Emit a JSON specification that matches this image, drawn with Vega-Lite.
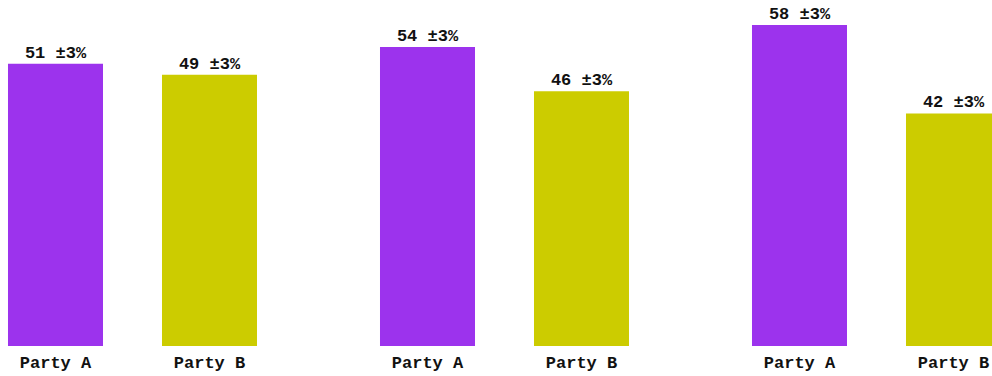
{
  "$schema": "https://vega.github.io/schema/vega-lite/v6.json",
  "padding": 0,
  "autosize": {"type": "none"},
  "width": 992,
  "height": 376,
  "background": "white",
  "data": {"values": [
    {"poll": "Poll 1", "party": "Party A", "value": 51, "label": "51 ±3%"},
    {"poll": "Poll 1", "party": "Party B", "value": 49, "label": "49 ±3%"},
    {"poll": "Poll 2", "party": "Party A", "value": 54, "label": "54 ±3%"},
    {"poll": "Poll 2", "party": "Party B", "value": 46, "label": "46 ±3%"},
    {"poll": "Poll 3", "party": "Party A", "value": 58, "label": "58 ±3%"},
    {"poll": "Poll 3", "party": "Party B", "value": 42, "label": "42 ±3%"}
  ]},
  "encoding": {
    "x": {"field": "poll", "type": "nominal", "scale": {"range": [0, 1116], "paddingInner": 0, "paddingOuter": 0}, "axis": null},
    "xOffset": {"field": "party", "type": "nominal", "scale": {"paddingInner": 0.3831, "paddingOuter": 0.39935, "align": 0.065}}
  },
  "layer": [
    {"mark": {"type": "bar"},
     "encoding": {
       "y": {"field": "value", "type": "quantitative", "scale": {"domain": [0, 62.5], "nice": false, "range": [346, 0]}, "axis": null},
       "color": {"field": "party", "type": "nominal", "scale": {"domain": ["Party A", "Party B"], "range": ["#9c33ed", "#cccc00"]}, "legend": null}}},
    {"mark": {"type": "text", "baseline": "alphabetic", "dy": -6, "font": "Liberation Mono", "fontWeight": "bold", "fontSize": 17, "color": "#111111"},
     "encoding": {
       "y": {"field": "value", "type": "quantitative"},
       "text": {"field": "label", "type": "nominal"}}},
    {"mark": {"type": "text", "baseline": "alphabetic", "dy": 22, "font": "Liberation Mono", "fontWeight": "bold", "fontSize": 17, "color": "#111111"},
     "encoding": {
       "y": {"datum": 0, "type": "quantitative"},
       "text": {"field": "party", "type": "nominal"}}}
  ],
  "config": {"view": {"stroke": null}}
}
